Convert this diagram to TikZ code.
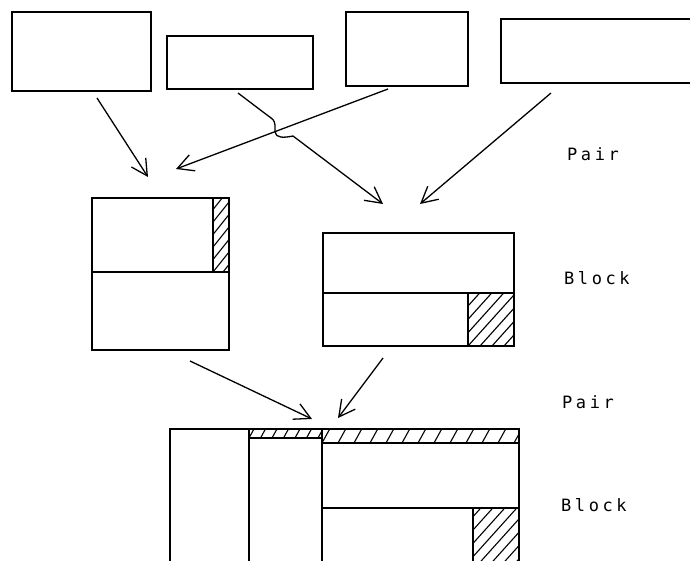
\documentclass[tikz,border=0pt]{standalone}
\usepackage{fontspec}
\usetikzlibrary{arrows.meta,calc}
\newfontfamily\lblfont[LetterSpace=21]{DejaVu Sans Mono}
\begin{document}
\begin{tikzpicture}[x=1pt,y=-1pt,
  box/.style={draw, line width=1.4pt, inner sep=0pt, outer sep=0pt, anchor=north west},
  hatchline/.style={line width=1.1pt},
  hatch/.style 2 args={path picture={\foreach \i in {-40,...,40} \draw[hatchline] ($(path picture bounding box.south west)+(\i*#1,0)$) -- ++({120*#2},-120);}},
  conn/.style={line width=1.3pt, -{Straight Barb[length=16pt,width=17pt]}},
  lbl/.style={anchor=base west, inner sep=0pt, font=\lblfont\fontsize{17}{20}\selectfont}
]
\useasboundingbox (0,0) rectangle (690,560);
\fill[white] (0,0) rectangle (690,560);
\clip (0,0) rectangle (690,560);

% top boxes
\node[box, minimum width=139pt, minimum height=79pt] (b1) at (12,12) {};
\node[box, minimum width=146pt, minimum height=53pt] (b2) at (167,36) {};
\node[box, minimum width=122pt, minimum height=74pt] (b3) at (346,12) {};
\node[box, minimum width=199pt, minimum height=64pt] (b4) at (501,19) {};

% left block
\node[box, minimum width=137pt, minimum height=74pt] (lbt) at (92,198) {};
\node[box, minimum width=137pt, minimum height=78pt] (lbb) at (92,272) {};
\node[box, hatch={10}{0.8}, minimum width=16pt, minimum height=74pt] (lbh) at (213,198) {};

% right block
\node[box, minimum width=191pt, minimum height=60pt] (rbt) at (323,233) {};
\node[box, minimum width=191pt, minimum height=53pt] (rbb) at (323,293) {};
\node[box, hatch={12}{0.9}, minimum width=46pt, minimum height=53pt] (rbh) at (468,293) {};

% bottom structure
\node[box, minimum width=79pt, minimum height=141pt] (c1) at (170,429) {};
\node[box, minimum width=73pt, minimum height=132pt] (c2) at (249,438) {};
\node[box, hatch={11.5}{0.55}, minimum width=73pt, minimum height=9pt] (s1) at (249,429) {};
\node[box, hatch={16}{0.55}, minimum width=197pt, minimum height=14pt] (s2) at (322,429) {};
\node[box, minimum width=197pt, minimum height=65pt] (r1) at (322,443) {};
\node[box, minimum width=197pt, minimum height=62pt] (r2) at (322,508) {};
\node[box, hatch={12}{0.9}, minimum width=46pt, minimum height=62pt] (bh) at (473,508) {};

% connector ends
\coordinate (aS) at (97,98);   \coordinate (aE) at (148,177);
\coordinate (bS) at (238,93);  \coordinate (bE) at (383,204);
\coordinate (cS) at (388,89);  \coordinate (cE) at (176,169);
\coordinate (dS) at (551,93);  \coordinate (dE) at (420,204);
\coordinate (eS) at (190,361); \coordinate (eE) at (312,419);
\coordinate (fS) at (383,358); \coordinate (fE) at (338,418);

\draw[conn] (aS) -- (aE);
\draw[conn] (bS) -- (267,115) .. controls (274,120) .. (275,125) -- (275,132)
  .. controls (276,138) and (283,138) .. (293,136) -- (bE);
\draw[conn] (cS) -- (cE);
\draw[conn] (dS) -- (dE);
\draw[conn] (eS) -- (eE);
\draw[conn] (fS) -- (fE);

% labels
\node[lbl] (p1) at (567,160) {Pair};
\node[lbl] (k1) at (564,284) {Block};
\node[lbl] (p2) at (562,408) {Pair};
\node[lbl] (k2) at (561,511) {Block};
\end{tikzpicture}
\end{document}
